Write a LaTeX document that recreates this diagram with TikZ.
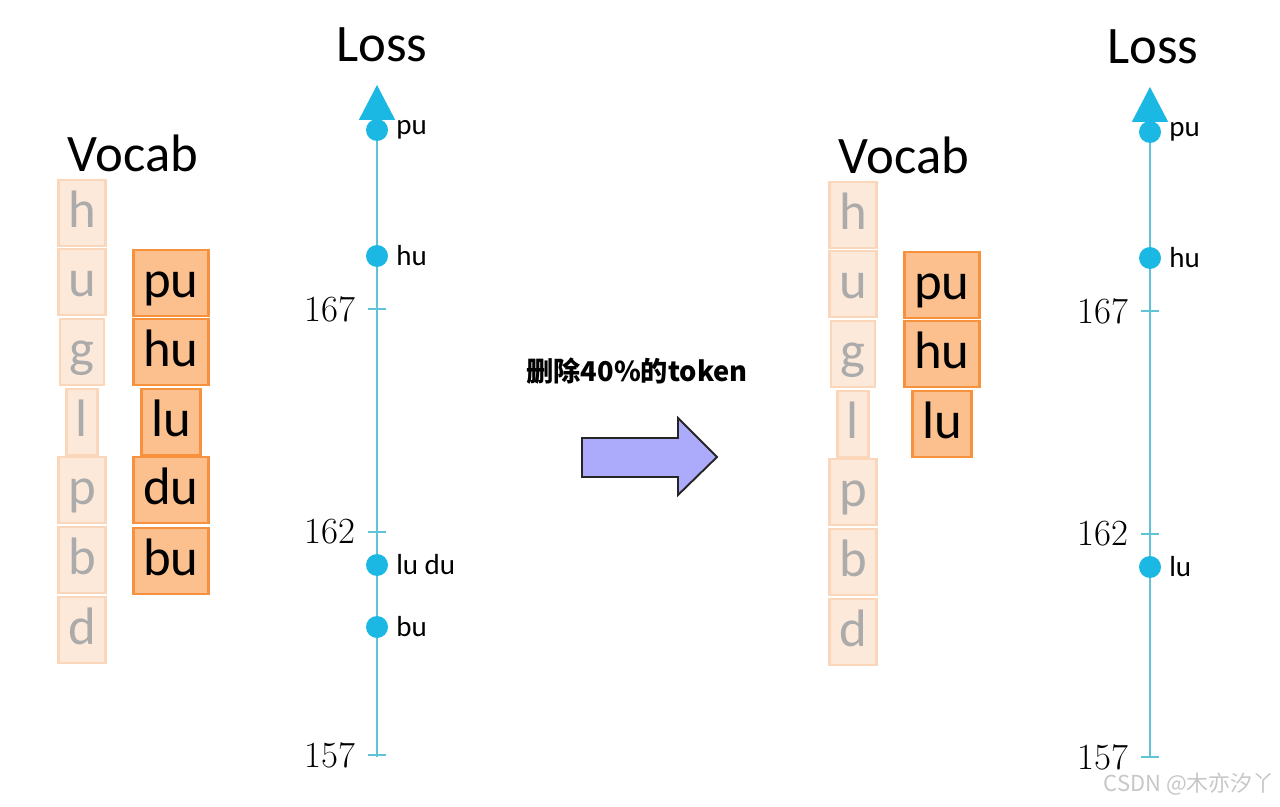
\documentclass[tikz,border=0pt]{standalone}
\usepackage{fontspec}
\newfontfamily\carlito{Carlito}
\newfontfamily\cjk{Noto Sans CJK SC}
\usetikzlibrary{arrows.meta}

\definecolor{axisblue}{RGB}{96,196,214}
\definecolor{dotblue}{RGB}{28,184,228}
\definecolor{paleorange}{RGB}{253,233,217}
\definecolor{paleedge}{RGB}{250,214,186}
\definecolor{tokorange}{RGB}{251,192,142}
\definecolor{tokedge}{RGB}{246,146,62}
\definecolor{arrowfill}{RGB}{172,170,250}

\tikzset{
  boxfont/.style={font=\carlito\fontsize{30}{31}\selectfont, text height=20pt, text depth=4pt,
    minimum height=1.32cm, inner xsep=5.5pt},
  letterbox/.style={boxfont, draw=paleedge, fill=paleorange, line width=1.5pt, text=black!33},
  tokenbox/.style={boxfont, draw=tokedge, fill=tokorange, line width=1.6pt, text=black},
  axisline/.style={draw=axisblue, line width=1.1pt},
  axistip/.style={-{Triangle[width=0.72cm, length=0.7cm, color=dotblue]}},
  lossdot/.style={circle, fill=dotblue, minimum size=0.44cm, inner sep=0pt},
  dotlabel/.style={font=\carlito\fontsize{16.5}{18}\selectfont, label distance=1pt},
  ticklabel/.style={font=\fontsize{21}{23}\selectfont, anchor=east, inner sep=0pt},
  heading/.style={font=\carlito\fontsize{30}{32}\selectfont},
}

\begin{document}
\begin{tikzpicture}[x=0.02cm, y=-0.02cm]
    \useasboundingbox (0,0) rectangle (1280,807);

    % left panel: full vocab
    \node[heading] (vocab) at (133,153) {Vocab};
    \foreach \ch/\y in {h/213,u/282,g/352,l/422,p/490,b/560,d/630}
        \node[letterbox] (v\ch) at (82,\y) {\ch};
    \foreach \tok/\y in {pu/283,hu/352,lu/422,du/490,bu/561}
        \node[tokenbox] (t\tok) at (171,\y) {\tok};

    \node[heading] (loss) at (382,45) {Loss};
    \coordinate (bot) at (377,757);
    \coordinate (top) at (377,85);
    \draw[axisline, axistip] (bot) -- (top);
    \foreach \v/\y in {167/309,162/532,157/755} {
        \draw[axisline] (377,\y) ++(-9,0) -- ++(18,0);
        \node[ticklabel] (n\v) at (356,\y) {\v};
    }
    \node[lossdot, label={[dotlabel]right:pu}] (dpu) at (377,130) {};
    \node[lossdot, label={[dotlabel]right:hu}] (dhu) at (377,256) {};
    \node[lossdot, label={[dotlabel]right:lu du}] (dludu) at (377,565) {};
    \node[lossdot, label={[dotlabel]right:bu}] (dbu) at (377,627) {};

    % the step in between
    \node[font=\cjk\bfseries\fontsize{15.5}{18}\selectfont] (cut) at (637,371) {删除40\%的token};
    \draw[line width=1.1pt, draw=black!85, fill=arrowfill]
        (582,438) -- (678,438) -- (678,418) -- (717,457) -- (678,495) -- (678,477) -- (582,477) -- cycle;

    % right panel: pruned vocab
    \begin{scope}[shift={(771,2)}]
        \node[heading] (rvocab) at (133,153) {Vocab};
        \foreach \ch/\y in {h/213,u/282,g/352,l/422,p/490,b/560,d/630}
            \node[letterbox] (rv\ch) at (82,\y) {\ch};
        \foreach \tok/\y in {pu/283,hu/352,lu/422}
            \node[tokenbox] (rt\tok) at (171,\y) {\tok};

        \node[heading] (rloss) at (382,45) {Loss};
        \coordinate (rbot) at (379,755);
        \coordinate (rtop) at (379,85);
        \draw[axisline, axistip] (rbot) -- (rtop);
        \foreach \v/\y in {167/309,162/532,157/755} {
            \draw[axisline] (379,\y) ++(-9,0) -- ++(18,0);
            \node[ticklabel] (rn\v) at (358,\y) {\v};
        }
        \node[lossdot, label={[dotlabel]right:pu}] (rdpu) at (379,130) {};
        \node[lossdot, label={[dotlabel]right:hu}] (rdhu) at (379,256) {};
        \node[lossdot, label={[dotlabel]right:lu}] (rdlu) at (379,565) {};
    \end{scope}

    \node[font=\cjk\fontsize{12.5}{13}\selectfont, text=black!22, anchor=east, inner sep=0pt] (mark) at (1275,784) {CSDN @木亦汐丫};
\end{tikzpicture}
\end{document}
